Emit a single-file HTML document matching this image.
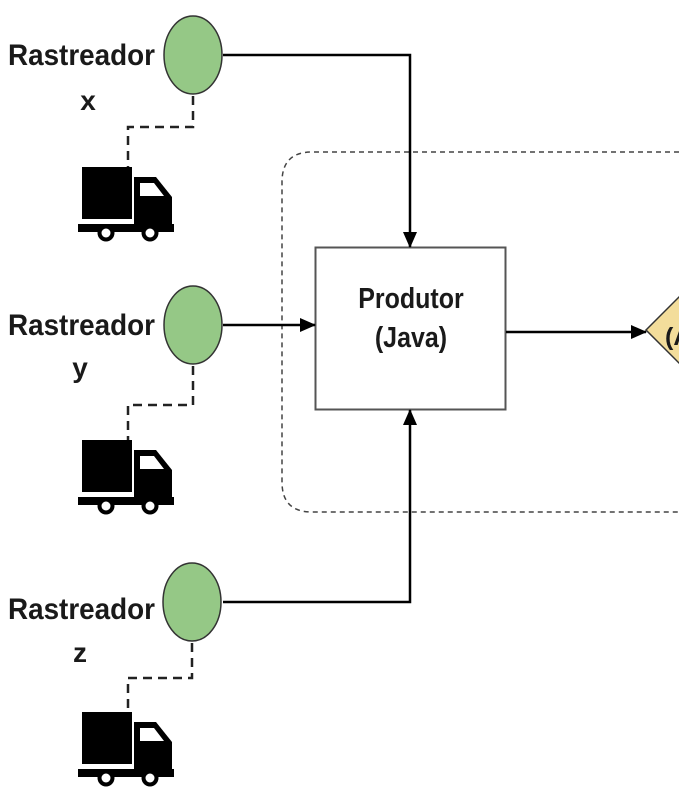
<!DOCTYPE html>
<html><head><meta charset="utf-8"><style>
html,body{margin:0;padding:0;background:#fff;width:679px;height:807px;overflow:hidden}
svg{display:block}
text{font-family:"Liberation Sans",Arial,sans-serif;font-weight:bold;fill:#1a1a1a}
</style></head><body>
<svg width="679" height="807" viewBox="0 0 679 807" xmlns="http://www.w3.org/2000/svg">
<defs>
<marker id="ah" markerWidth="16" markerHeight="14" refX="15" refY="7" orient="auto" markerUnits="userSpaceOnUse">
<path d="M0,0 L16,7 L0,14 z" fill="#000"/>
</marker>
<g id="truck">
<rect x="0" y="0" width="50" height="52" fill="#000"/>
<path d="M52,10 H74 L90,30 V58 H52 Z" fill="#000"/>
<path d="M58,16 H72 L82,29 H58 Z" fill="#fff"/>
<rect x="-4" y="57" width="96" height="8" fill="#000"/>
<circle cx="24" cy="66" r="8.5" fill="#000"/><circle cx="24" cy="66" r="4.5" fill="#fff"/>
<circle cx="68" cy="66" r="8.5" fill="#000"/><circle cx="68" cy="66" r="4.5" fill="#fff"/>
</g>
</defs>
<path d="M679,152 H312 Q282,152 282,182 V482 Q282,512 312,512 H679" fill="none" stroke="#444" stroke-width="1.5" stroke-dasharray="5,4"/>
<rect x="315.5" y="247.5" width="190" height="162" fill="#fff" stroke="#555" stroke-width="2"/>
<text x="411" y="308" text-anchor="middle" font-size="25" transform="translate(411 308) scale(1 1.15) translate(-411 -308)">Produtor</text>
<text x="411" y="347" text-anchor="middle" font-size="25" transform="translate(411 347) scale(1 1.15) translate(-411 -347)">(Java)</text>
<path d="M223,55 H410 V247" fill="none" stroke="#000" stroke-width="2.5" marker-end="url(#ah)"/>
<path d="M223,325 H315" fill="none" stroke="#000" stroke-width="2.5" marker-end="url(#ah)"/>
<path d="M223,602 H410 V410" fill="none" stroke="#000" stroke-width="2.5" marker-end="url(#ah)"/>
<path d="M506,332 H646" fill="none" stroke="#000" stroke-width="2.5" marker-end="url(#ah)"/>
<path d="M646,330 L700,276 L754,330 L700,384 Z" fill="#f3dd9b" stroke="#333" stroke-width="1.5"/>
<text x="665" y="345" font-size="25">(A</text>
<ellipse cx="193" cy="55" rx="29" ry="39" fill="#95c886" stroke="#333" stroke-width="1.5"/>
<ellipse cx="193" cy="325" rx="29" ry="39" fill="#95c886" stroke="#333" stroke-width="1.5"/>
<ellipse cx="192" cy="602" rx="29" ry="39" fill="#95c886" stroke="#333" stroke-width="1.5"/>
<g fill="none" stroke="#222" stroke-width="2.5" stroke-dasharray="9,6">
<path d="M193,96 V127 H128 V168"/>
<path d="M193,366 V405 H128 V440"/>
<path d="M192,643 V678 H128 V712"/>
</g>
<use href="#truck" x="82" y="167"/>
<use href="#truck" x="82" y="440"/>
<use href="#truck" x="82" y="712"/>
<g font-size="28">
<text x="8" y="65" textLength="147" lengthAdjust="spacingAndGlyphs" transform="translate(8 65) scale(1 1.05) translate(-8 -65)">Rastreador</text>
<text x="88" y="110" text-anchor="middle">x</text>
<text x="8" y="335" textLength="147" lengthAdjust="spacingAndGlyphs" transform="translate(8 335) scale(1 1.05) translate(-8 -335)">Rastreador</text>
<text x="80" y="377" text-anchor="middle">y</text>
<text x="8" y="619" textLength="147" lengthAdjust="spacingAndGlyphs" transform="translate(8 619) scale(1 1.05) translate(-8 -619)">Rastreador</text>
<text x="80" y="662" text-anchor="middle">z</text>
</g>
</svg>
</body></html>
